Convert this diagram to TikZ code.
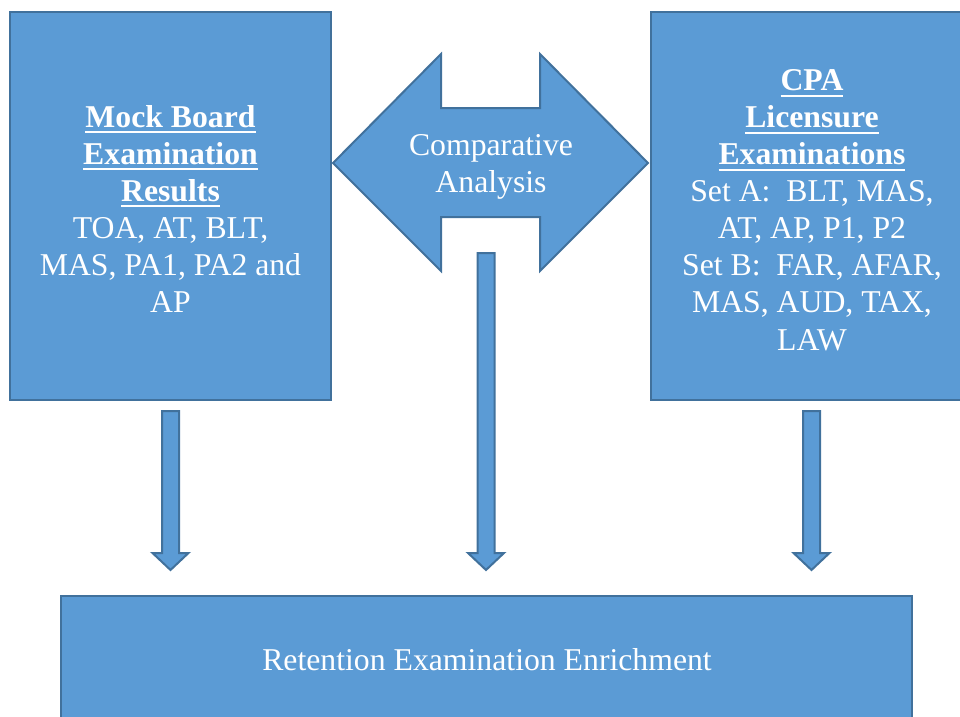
\documentclass[tikz,border=0pt]{standalone}
\usepackage{fontspec}
\setmainfont{Liberation Serif}
\definecolor{boxfill}{HTML}{5B9BD5}
\definecolor{boxline}{HTML}{41719C}
\newsavebox{\hdbox}
\newcommand{\hd}[1]{\sbox{\hdbox}{\textbf{#1}}\rlap{\rule[-4.5pt]{\wd\hdbox}{1.5pt}}\usebox{\hdbox}}
\begin{document}
\begin{tikzpicture}[x=0.75pt,y=-0.75pt,
  shapebox/.style={fill=boxfill,draw=boxline,line width=1.5pt,line join=miter},
  label/.style={text=white,align=center,font=\fontsize{23.8}{27.8}\selectfont,inner sep=0pt}]
\useasboundingbox (0,0) rectangle (960,717);
% boxes
\draw[shapebox] (10,12) rectangle (331,400);
\draw[shapebox] (651,12) rectangle (973,400);
\draw[shapebox] (61,596) rectangle (912,726);
% double arrow
\draw[shapebox] (333,163) -- (441,54) -- (441,108) -- (540,108) -- (540,54) -- (648,163)
  -- (540,271) -- (540,217) -- (441,217) -- (441,271) -- cycle;
% down arrows
\foreach \cx/\top in {170.5/411, 486/253, 811.5/411}{
  \draw[shapebox] (\cx-8.5,\top) -- (\cx+8.5,\top) -- (\cx+8.5,553) -- (\cx+18,553)
    -- (\cx,570) -- (\cx-18,553) -- (\cx-8.5,553) -- cycle;
}
% texts
\node[label] (mock) at (170.5,209) {\hd{Mock Board}\\\hd{Examination}\\\hd{Results}\\TOA, AT, BLT,\\MAS, PA1, PA2 and\\AP};
\node[label] (cpa) at (812,210) {\hd{CPA}\\\hd{Licensure}\\\hd{Examinations}\\Set A:~ BLT, MAS,\\AT, AP, P1, P2\\Set B:~ FAR, AFAR,\\MAS, AUD, TAX,\\LAW};
\node[label] (comp) at (491,167) {Comparative\\Analysis};
\node[label] (ret) at (487,660) {Retention Examination Enrichment};
\end{tikzpicture}
\end{document}
